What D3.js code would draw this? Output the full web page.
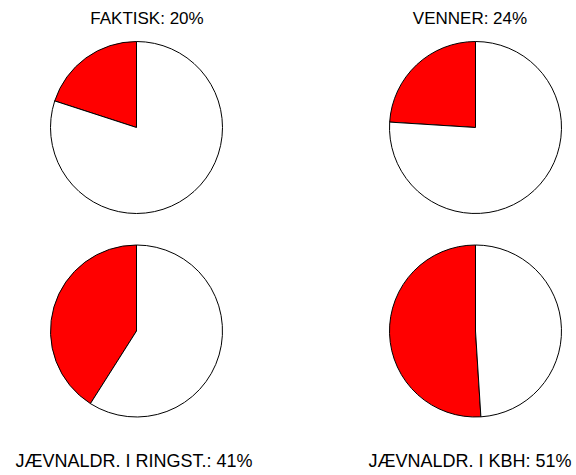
<!DOCTYPE html>
<html>
<head>
<meta charset="utf-8">
<script src="https://cdn.jsdelivr.net/npm/d3@7"></script>
<style>
  body { margin: 0; background: #fff; }
  text { font-family: "Liberation Sans", Arial, sans-serif; fill: #000; }
</style>
</head>
<body>
<svg id="chart" width="576" height="475"></svg>
<script>
// pie labels and share (percent) of red slice
let labels = ["FAKTISK", "VENNER", "JÆVNALDR. I RINGST.", "JÆVNALDR. I KBH"];
let shares = [20, 24, 41, 51];

// layout: which cell every pie sits in, and where its title is
let cells = [
  { col: 0, row: 0, titleX: 147, above: true },
  { col: 1, row: 0, titleX: 470, above: true },
  { col: 0, row: 1, titleX: 134, above: false },
  { col: 1, row: 1, titleX: 470, above: false }
];

var radius = 86;

var x = d3.scaleLinear().domain([0, 1]).range([136.5, 475.5]);
var y = d3.scaleLinear().domain([0, 1]).range([127.5, 331]);

var svg = d3.select("#chart");

// start at 12 o'clock, red runs counter clockwise
var pie = d3.pie()
    .sort(null)
    .startAngle(0)
    .endAngle(-2 * Math.PI)
    .value(function(d) { return d; });

var arc = d3.arc().innerRadius(0).outerRadius(radius);

shares.forEach(function(s, i) {
  let c = cells[i];
  let g = svg.append("g")
      .attr("transform", "translate(" + x(c.col) + "," + y(c.row) + ")");

  g.selectAll("path")
    .data(pie([s, 100 - s]))
    .enter().append("path")
    .attr("d", arc)
    .attr("fill", function(d, j) { return j === 0 ? "#ff0000" : "#ffffff"; })
    .attr("stroke", "#000")
    .attr("stroke-width", 1);

  svg.append("text")
    .attr("x", c.titleX)
    .attr("y", c.above ? 23.5 : 466.5)
    .attr("text-anchor", "middle")
    .style("font-size", c.above ? "17px" : "18px")
    .text(labels[i] + ": " + s + "%");
});
</script>
</body>
</html>
